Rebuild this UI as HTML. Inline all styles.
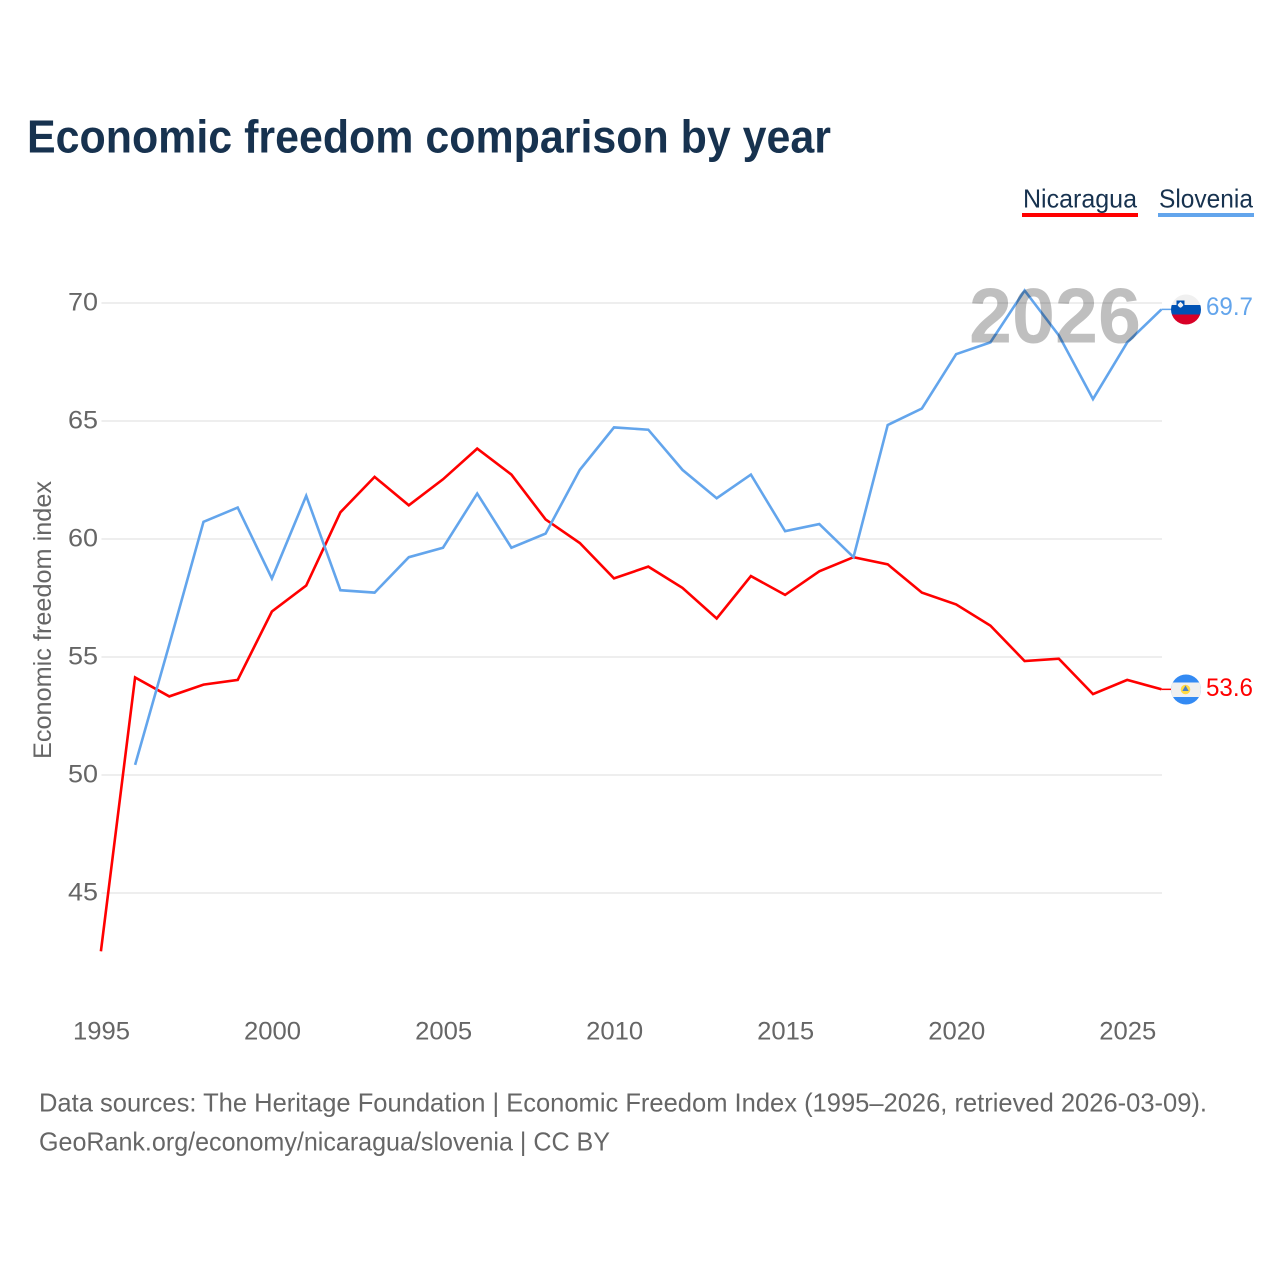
<!DOCTYPE html>
<html lang="en">
<head>
<meta charset="utf-8">
<title>Economic freedom comparison by year</title>
<style>
html,body{margin:0;padding:0;background:#fff;}
svg{display:block;}
text{font-family:"Liberation Sans",sans-serif;}
</style>
</head>
<body>
<svg id="chart" xmlns="http://www.w3.org/2000/svg" width="1280" height="1280" viewBox="0 0 1280 1280">
  <rect width="1280" height="1280" fill="#ffffff"/>
  <text x="27" y="152.500" font-size="46" font-weight="bold" fill="#17324f" textLength="804" lengthAdjust="spacingAndGlyphs">Economic freedom comparison by year</text>

  <g>
    <text x="1023" y="207.500" font-size="26" fill="#17324f" textLength="114" lengthAdjust="spacingAndGlyphs">Nicaragua</text>
    <rect x="1022" y="213" width="116" height="4" fill="#ff0000"/>
    <text x="1159" y="207.500" font-size="26" fill="#17324f" textLength="94" lengthAdjust="spacingAndGlyphs">Slovenia</text>
    <rect x="1158" y="213" width="96" height="4" fill="#63a5ec"/>
  </g>

  <g id="grid"></g>
  <g id="yticks"></g>
  <g id="xticks"></g>
  <text transform="translate(51,620) rotate(-90)" text-anchor="middle" font-size="25" fill="#666666" textLength="278" lengthAdjust="spacingAndGlyphs">Economic freedom index</text>

  <g id="series" transform="translate(-0.6,-0.7)"></g>

  <text x="969" y="342.500" font-size="78" font-weight="bold" fill="#000000" fill-opacity="0.25" textLength="172" lengthAdjust="spacingAndGlyphs">2026</text>

  <g>
    <clipPath id="clip-si"><circle cx="1186" cy="309.500" r="15"/></clipPath>
    <g clip-path="url(#clip-si)">
      <rect x="1171" y="294" width="30" height="11" fill="#f0f0f0"/>
      <rect x="1171" y="305" width="30" height="9.500" fill="#0052b4"/>
      <rect x="1171" y="314.500" width="30" height="11" fill="#d80027"/>
      <path d="M1176.500 300.500h8v4.500q0 2.500-4 4q-4-1.500-4-4z" fill="#0052b4"/>
      <path d="M1177.800 304.500l1.400-1.500 1.300-1.200 1.300 1.200 1.400 1.500v1q-1.200 1.800-2.700 2.300q-1.500-.5-2.700-2.300z" fill="#f0f0f0"/>
    </g>
  </g>
  <g>
    <clipPath id="clip-ni"><circle cx="1186" cy="689.500" r="15"/></clipPath>
    <g clip-path="url(#clip-ni)">
      <rect x="1171" y="674" width="30" height="31" fill="#338af3"/>
      <rect x="1171" y="682.500" width="30" height="14.500" fill="#f0f0f0"/>
      <circle cx="1185.500" cy="689.500" r="4.800" fill="#ffda44"/>
      <path d="M1185.500 685.500l3.200 5.500h-6.400z" fill="#4b7fc4"/>
    </g>
  </g>

  <g id="endlabels"></g>

  <text x="39" y="1111.500" font-size="26" fill="#666666" textLength="1168" lengthAdjust="spacingAndGlyphs">Data sources: The Heritage Foundation | Economic Freedom Index (1995–2026, retrieved 2026-03-09).</text>
  <text x="39" y="1150.500" font-size="26" fill="#666666" textLength="571" lengthAdjust="spacingAndGlyphs">GeoRank.org/economy/nicaragua/slovenia | CC BY</text>
</svg>
<script>
var years = [1995,1996,1997,1998,1999,2000,2001,2002,2003,2004,2005,2006,2007,2008,2009,2010,2011,2012,2013,2014,2015,2016,2017,2018,2019,2020,2021,2022,2023,2024,2025,2026];
var nicaragua = [42.5,54.1,53.3,53.8,54.0,56.9,58.0,61.1,62.6,61.4,62.5,63.8,62.7,60.8,59.8,58.3,58.8,57.9,56.6,58.4,57.6,58.6,59.2,58.9,57.7,57.2,56.3,54.8,54.9,53.4,54.0,53.6];
var slovenia = [null,50.4,55.5,60.7,61.3,58.3,61.8,57.8,57.7,59.2,59.6,61.9,59.6,60.2,62.9,64.7,64.6,62.9,61.7,62.7,60.3,60.6,59.2,64.8,65.5,67.8,68.3,70.5,68.6,65.9,68.3,69.7];
var yTickValues = [45,50,55,60,65,70];
var xTickValues = [1995,2000,2005,2010,2015,2020,2025];

var NS = 'http://www.w3.org/2000/svg';
function xScale(year){ return 101.5 + (year - 1995) * (1162 - 101.5) / 31; }
function yScale(v){ return 303 + (70 - v) * 23.6; }
function make(tag, attrs, parent){
  var el = document.createElementNS(NS, tag);
  for (var k in attrs) el.setAttribute(k, attrs[k]);
  parent.appendChild(el);
  return el;
}
var grid = document.getElementById('grid');
var yticks = document.getElementById('yticks');
var xticks = document.getElementById('xticks');
var seriesG = document.getElementById('series');
var endG = document.getElementById('endlabels');

yTickValues.forEach(function(v){
  var line = make('line', {x1:101.5, x2:1162, y1:yScale(v), y2:yScale(v), stroke:'#eeeeee', 'stroke-width':2}, grid);
  
  
  var t = make('text', {x:98, y:yScale(v)+7.5, 'text-anchor':'end', 'font-size':25, fill:'#666666', textLength:30, lengthAdjust:'spacingAndGlyphs'}, yticks);
  
  
  t.textContent = v;
});
xTickValues.forEach(function(y){
  var t = make('text', {x:xScale(y), y:1039.5, 'text-anchor':'middle', 'font-size':25, fill:'#666666', textLength:57, lengthAdjust:'spacingAndGlyphs'}, xticks);
  
  
  t.textContent = y;
});
function drawSeries(values, color, name, flagY){
  var pts = [];
  values.forEach(function(v, i){
    if (v !== null) pts.push(xScale(years[i]).toFixed(1) + ',' + yScale(v).toFixed(1));
  });
  var p = make('polyline', {points:pts.join(' '), fill:'none', stroke:color, 'stroke-width':2.6, 'stroke-linejoin':'miter'}, seriesG);
  
  
  var last = values[values.length - 1];
  var lastY = yScale(last);
  var c = make('line', {x1:1162, x2:1172, y1:lastY, y2:lastY, stroke:color, 'stroke-width':1.5}, seriesG);
  
  
  var t = make('text', {x:1206, y:flagY + 6, 'font-size':25, fill:color, textLength:47, lengthAdjust:'spacingAndGlyphs'}, endG);
  
  
  t.textContent = last.toFixed(1);
}
drawSeries(nicaragua, '#ff0000', 'nicaragua', 690);
drawSeries(slovenia, '#63a5ec', 'slovenia', 309);
</script>
</body>
</html>
